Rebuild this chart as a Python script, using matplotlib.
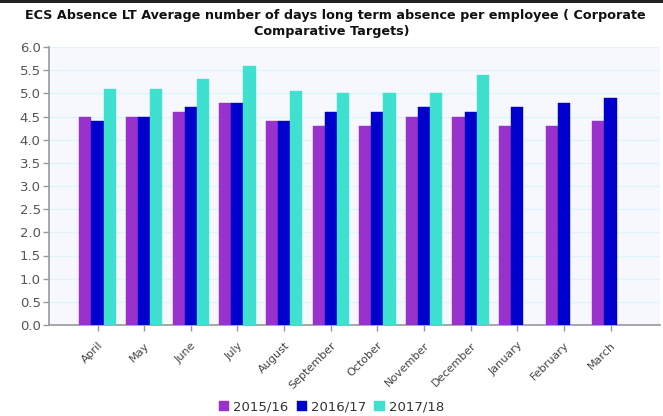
import numpy as np
import matplotlib
matplotlib.use("Agg")
import matplotlib.pyplot as plt
from matplotlib.patches import Rectangle

months = ["April", "May", "June", "July", "August", "September", "October",
          "November", "December", "January", "February", "March"]
series_names = ["2015/16", "2016/17", "2017/18"]
v2015 = [4.5, 4.5, 4.6, 4.8, 4.4, 4.3, 4.3, 4.5, 4.5, 4.3, 4.3, 4.4]
v2016 = [4.4, 4.5, 4.7, 4.8, 4.4, 4.6, 4.6, 4.7, 4.6, 4.7, 4.8, 4.9]
v2017 = [5.1, 5.1, 5.3, 5.6, 5.05, 5.0, 5.0, 5.0, 5.4, np.nan, np.nan, np.nan]
colors = ["#9932CC", "#0000CD", "#40E0D0"]

fig = plt.figure(figsize=(6.63, 4.16), dpi=100)
fig.patch.set_facecolor("white")
# dark strip along the top edge
fig.add_artist(Rectangle((0, 1 - 2.5 / 416), 1, 2.5 / 416, transform=fig.transFigure,
                         facecolor="#222222", edgecolor="none"))

ax = fig.add_axes([49 / 663, 91 / 416, 611 / 663, 278 / 416])
ax.set_facecolor("#F7F8FE")

x = np.arange(len(months))
w = 0.26
for i, (vals, c, name) in enumerate(zip([v2015, v2016, v2017], colors, series_names)):
    ax.bar(x + (i - 1) * w, vals, width=w, color=c, label=name, zorder=3,
           edgecolor=c, linewidth=0.3)

ax.set_xlim(-1.04, 12.06)
ax.set_ylim(0, 6.0)
ax.set_yticks(np.arange(0, 6.01, 0.5))
ax.set_yticklabels([f"{t:.1f}" for t in np.arange(0, 6.01, 0.5)])
ax.grid(axis="y", color="#DDF6FB", linewidth=1.0, zorder=0)
ax.set_axisbelow(True)

ax.set_xticks(x)
ax.set_xticklabels(months, rotation=45, ha="right", rotation_mode="anchor")

for s in ["top", "right"]:
    ax.spines[s].set_visible(False)
for s in ["left", "bottom"]:
    ax.spines[s].set_color("#999999")
    ax.spines[s].set_linewidth(1.2)
ax.tick_params(axis="y", colors="#999999", labelcolor="#555555", labelsize=9.5,
               length=4, width=1, pad=2)
ax.tick_params(axis="x", colors="#999999", labelcolor="#444444", labelsize=8,
               length=4, width=1, pad=7)

fig.text(0.505, 1 - 15 / 416, "ECS Absence LT Average number of days long term absence per employee ( Corporate",
         ha="center", va="center", fontsize=9.2, fontweight="bold", color="#111111")
fig.text(0.5, 1 - 32 / 416, "Comparative Targets)",
         ha="center", va="center", fontsize=9.2, fontweight="bold", color="#111111")

leg = fig.legend(loc="center", bbox_to_anchor=(0.5, 1 - 407 / 416), ncol=3, frameon=False,
                 fontsize=9.5, handlelength=0.8, handleheight=0.8, handletextpad=0.3,
                 columnspacing=0.6)
for t in leg.get_texts():
    t.set_color("#333333")

fig.savefig("out.png", dpi=100)
